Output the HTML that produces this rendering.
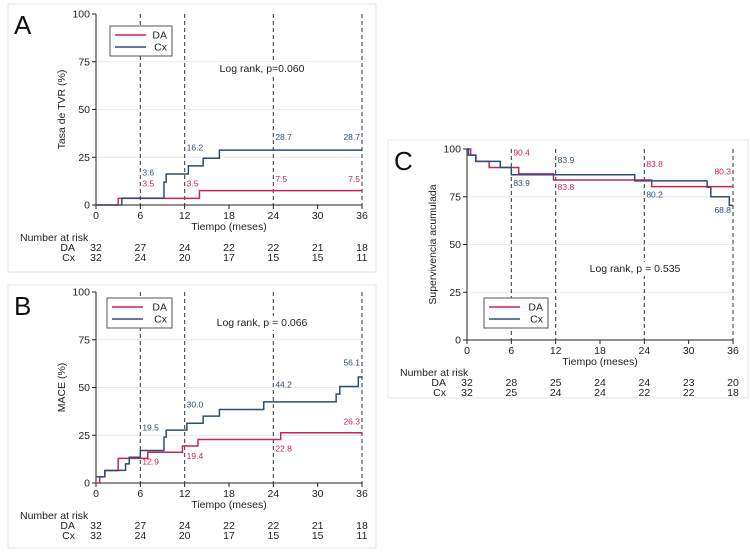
<!DOCTYPE html>
<html><head><meta charset="utf-8"><style>
body{margin:0;background:#fff;width:750px;height:552px;overflow:hidden;font-family:"Liberation Sans",sans-serif}
svg{position:absolute;left:0;top:0}
</style></head><body>
<svg id="c" width="750" height="552" font-family="Liberation Sans, sans-serif"></svg>
<script>
const xTicks=[0,6,12,18,24,30,36];
const yTicks=[0,25,50,75,100];
const riskTimes=[0,6,12,18,24,30,36];
// Panel A
const aDA=[[0,0],[3,3.5],[14,7.5],[36,7.5]];
const aCx=[[0,0],[3.5,3.6],[9.2,12],[9.5,16.2],[12.5,20.5],[14.5,24.5],[16.7,28.7],[36,28.7]];
const aRiskDA=[32,27,24,22,22,21,18];
const aRiskCx=[32,24,20,17,15,15,11];
const aLabels=[[6,8,'3.5','DA',1],[6,14,'3.6','Cx',1],[12,8,'3.5','DA',1],[12,27,'16.2','Cx',1],[24,10.5,'7.5','DA',1],[24,32.5,'28.7','Cx',1],[36,10.5,'7.5','DA',-1],[36,32.5,'28.7','Cx',-1]];
// Panel B
const bDA=[[0,0],[0.5,3.2],[1.2,6.5],[3,12.9],[7,16.1],[11.7,19.4],[13.8,22.8],[25,26.3],[36,26.3]];
const bCx=[[0,3.3],[1.2,6.6],[4,10],[4.5,13.5],[6,17],[9.2,24],[9.5,27.7],[12.3,31.3],[14.5,35],[16.7,38.5],[22.7,42.5],[32.5,46.5],[33,50.5],[35.5,55.5],[36,55.5]];
const bRiskDA=[32,27,24,22,22,21,18];
const bRiskCx=[32,24,20,17,15,15,11];
const bLabels=[[6,8,'12.9','DA',1],[6,26,'19.5','Cx',1],[12,11,'19.4','DA',1],[12,38,'30.0','Cx',1],[24,15,'22.8','DA',1],[24,48.5,'44.2','Cx',1],[36,29,'26.3','DA',-1],[36,60,'56.1','Cx',-1]];
// Panel C
const cDA=[[0,100],[0.5,96.8],[1.2,93.5],[3,90.3],[7,87],[11.7,83.8],[25,80.3],[36,80.3]];
const cCx=[[0,100],[0.2,96.8],[1.2,93.5],[4.5,90.3],[6,86.5],[22.7,83.3],[32.5,80],[33,75],[35.5,70.5],[36,70.5]];
const cRiskDA=[32,28,25,24,24,23,20];
const cRiskCx=[32,25,24,24,22,22,18];
const cLabels=[[6,95,'90.4','DA',1],[6,79,'83.9','Cx',1],[12,91,'83.9','Cx',1],[12,77,'83.8','DA',1],[24,89,'83.8','DA',1],[24,73,'80.2','Cx',1],[36,85,'80.3','DA',-1],[36,65,'68.8','Cx',-1]];

const svg=document.getElementById('c');
const NS='http://www.w3.org/2000/svg';
const COL={DA:'#c8245a',Cx:'#2e4f73'};
function mk(tag,attrs,parent){const e=document.createElementNS(NS,tag);for(const k in attrs)e.setAttribute(k,attrs[k]);(parent||svg).appendChild(e);return e;}
function txt(x,y,s,size,anchor,fill,parent){const t=mk('text',{x:x,y:y,'font-size':size,'text-anchor':anchor||'start',fill:fill||'#222'},parent);t.textContent=s;return t;}

function panel(p){
  const g=mk('g',{});
  
  
  const fr=mk('rect',{x:p.box[0],y:p.box[1],width:p.box[2],height:p.box[3],fill:'none',stroke:'#e4e4e4'},g);
  
  const X=v=>p.x0+(p.x1-p.x0)*v/36, Y=v=>p.y0-(p.y0-p.y1)*v/100;
  yTicks.forEach(v=>{
    if(v>0&&v<100){const l=mk('line',{x1:X(0),x2:X(36),y1:Y(v),y2:Y(v),stroke:'#eaeaea'},g);}
    mk('line',{x1:X(0)-4,x2:X(0),y1:Y(v),y2:Y(v),stroke:'#222'},g);
    const t=txt(X(0)-6,Y(v)+3.5,String(v),10.5,'end','#222',g);
  });
  xTicks.forEach(v=>{
    mk('line',{x1:X(v),x2:X(v),y1:Y(0),y2:Y(0)+4,stroke:'#222'},g);
    const t=txt(X(v),Y(0)+14,String(v),10.5,'middle','#222',g);
  });
  [6,12,24,36].forEach(v=>{const l=mk('line',{x1:X(v),x2:X(v),y1:Y(100),y2:Y(0),stroke:'#444','stroke-dasharray':'4,3','stroke-width':1.1},g);});
  mk('line',{x1:X(0),x2:X(0),y1:Y(100),y2:Y(0),stroke:'#222'},g);
  mk('line',{x1:X(0),x2:X(36),y1:Y(0),y2:Y(0),stroke:'#222'},g);
  [['DA',p.da],['Cx',p.cx]].forEach(([n,d])=>{
    let s='M'+X(d[0][0])+','+Y(d[0][1]);
    for(let i=1;i<d.length;i++){s+=' H'+X(d[i][0])+' V'+Y(d[i][1]);}
    const path=mk('path',{d:s,fill:'none',stroke:COL[n],'stroke-width':1.5},g);
    
  });
  p.labels.forEach(l=>{const t=txt(X(l[0])+(l[4]>0?2:-2),Y(l[1])-3,l[2],8.5,l[4]>0?'start':'end',COL[l[3]],g);});
  const lr=p.lr; mk('rect',{x:lr[0]-47,y:lr[1]-10,width:94,height:14,fill:'#fff'},g);
  const lt=txt(lr[0],lr[1],lr[2],10.5,'middle','#222',g);
  const L=p.leg; const lg=mk('g',{},g);
  mk('rect',{x:L[0],y:L[1],width:L[2],height:30,fill:'#fff',stroke:'#555'},lg);
  [['DA',0],['Cx',1]].forEach(([n,i])=>{
    const yy=L[1]+9+i*12;
    const e=mk('line',{x1:L[0]+5,x2:L[0]+36,y1:yy,y2:yy,stroke:COL[n],'stroke-width':1.5},lg);
    txt(L[0]+L[2]-5,yy+3.5,n,10.5,'end','#222',lg);
  });
  const yt=txt(0,0,p.ytitle,10.5,'middle','#222',g);yt.setAttribute('transform','translate('+(X(0)-31)+','+((Y(0)+Y(100))/2)+') rotate(-90)');
  const xt=txt((X(0)+X(36))/2,Y(0)+25,'Tiempo (meses)',10.5,'middle','#222',g);
  const big=txt(p.box[0]+6,p.box[1]+30,p.id,26,'start','#111',g);
  const rk=txt(p.box[0]+12,Y(0)+36,'Number at risk',10.5,'start','#222',g);
  [['DA',p.rda,46],['Cx',p.rcx,56]].forEach(([n,arr,dy])=>{
    const lab=txt(X(0)-21,Y(0)+dy,n,10.5,'end','#222',g);
    arr.forEach((v,i)=>{const t=txt(X(riskTimes[i]),Y(0)+dy,String(v),10.5,'middle','#222',g);});
  });
}
panel({id:'A',box:[8,4,368,268],x0:96,x1:362,y0:205,y1:14,da:aDA,cx:aCx,labels:aLabels,rda:aRiskDA,rcx:aRiskCx,lr:[262,72,'Log rank, p=0.060'],leg:[110,26,62],ytitle:'Tasa de TVR (%)'});
panel({id:'B',box:[8,285,368,263],x0:96,x1:362,y0:483,y1:292,da:bDA,cx:bCx,labels:bLabels,rda:bRiskDA,rcx:bRiskCx,lr:[262,326,'Log rank, p = 0.066'],leg:[107,298,65],ytitle:'MACE (%)'});
panel({id:'C',box:[388,140,360,258],x0:467,x1:733,y0:340,y1:149,da:cDA,cx:cCx,labels:cLabels,rda:cRiskDA,rcx:cRiskCx,lr:[635,272,'Log rank, p = 0.535'],leg:[484,298,64],ytitle:'Supervivencia acumulada'});
</script>
</body></html>
